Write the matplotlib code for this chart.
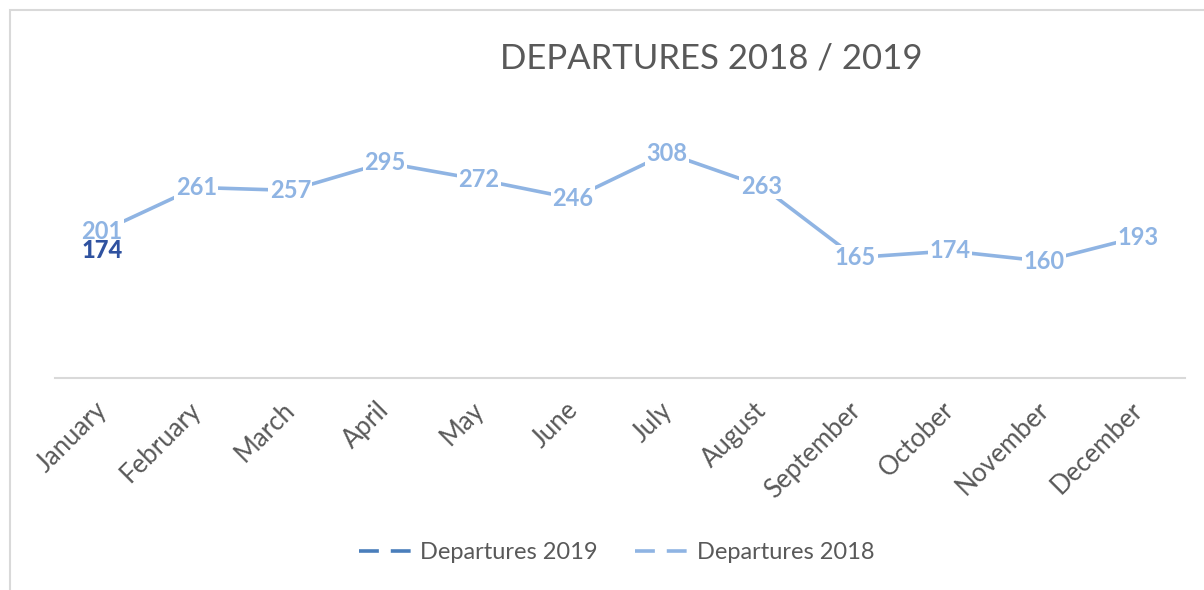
import numpy as np
import matplotlib
matplotlib.use("Agg")
from matplotlib import pyplot as plt
from matplotlib.patches import Rectangle
from matplotlib.lines import Line2D
import matplotlib.transforms as mtransforms

plt.rcParams['font.family'] = ['Lato', 'DejaVu Sans']

months = ['January', 'February', 'March', 'April', 'May', 'June', 'July',
          'August', 'September', 'October', 'November', 'December']
dep_2018 = [201, 261, 257, 295, 272, 246, 308, 263, 165, 174, 160, 193]
dep_2019 = [174]

c18 = '#8fb4e3'
c19 = '#4a7ebb'
c19_label = '#2f52a0'
grey = '#595959'

fig = plt.figure(figsize=(12.04, 5.90), dpi=100)
ax = fig.add_axes([0.0457, 0.3593, 0.9386, 0.4331])

# chart frame like excel
fig.patches.append(Rectangle((10 / 1204, -0.1), 1.2, 1 - 10 / 590 + 0.1,
                             transform=fig.transFigure, fill=False,
                             edgecolor='#d9d9d9', linewidth=1.5))

x = np.arange(len(months))
ax.plot(x, dep_2018, color=c18, linewidth=2.6, solid_capstyle='round', zorder=2)
ax.plot(x[:len(dep_2019)], dep_2019, color=c19, linewidth=2.6, zorder=2)

for xi, v in zip(x, dep_2018):
    ax.text(xi, v, str(v), color=c18, fontsize=17, fontweight='bold',
            ha='center', va='center', zorder=3,
            bbox=dict(facecolor='white', edgecolor='none', pad=1.0))
for xi, v in zip(x, dep_2019):
    ax.text(xi, v, str(v), color=c19_label, fontsize=17, fontweight='black',
            ha='center', va='center', zorder=4)

ax.set_xlim(-0.5, len(months) - 0.5)
ax.set_ylim(0, 350)
ax.set_yticks([])
for s in ['top', 'right', 'left']:
    ax.spines[s].set_visible(False)
ax.spines['bottom'].set_color('#d9d9d9')
ax.spines['bottom'].set_linewidth(1.5)
ax.set_xticks(x)
ax.set_xticklabels(months, rotation=45, ha='right', rotation_mode='anchor',
                   fontsize=18.5, color=grey)
ax.tick_params(axis='x', length=0, pad=14)
# nudge labels left so their ends sit under the category
shift = mtransforms.ScaledTranslation(-8 / 100, 0, fig.dpi_scale_trans)
for lab in ax.get_xticklabels():
    lab.set_transform(lab.get_transform() + shift)

fig.text(0.5905, 0.90, 'DEPARTURES 2018 / 2019', fontsize=25, color=grey,
         ha='center', va='center')

handles = [Line2D([], [], color=c19, linewidth=2.6, linestyle=(0, (5.5, 3.3))),
           Line2D([], [], color=c18, linewidth=2.6, linestyle=(0, (5.5, 3.3)))]
fig.legend(handles, ['Departures 2019', 'Departures 2018'], loc='center',
           bbox_to_anchor=(0.512, 0.063), ncol=2, frameon=False, fontsize=17,
           labelcolor=grey, handlelength=2.3, columnspacing=1.6, handletextpad=0.3)

fig.savefig('out.png', dpi=100)
